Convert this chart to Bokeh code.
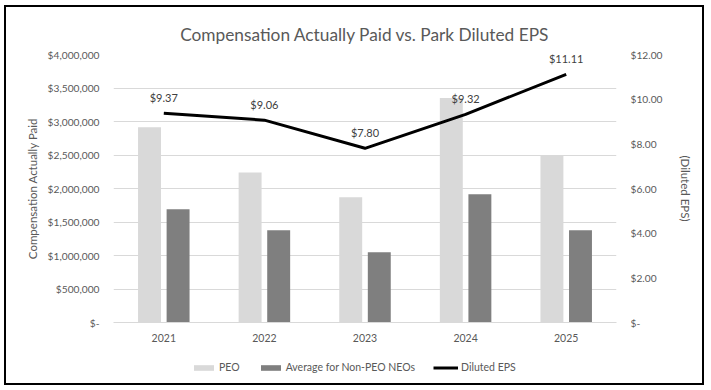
from bokeh.plotting import figure
from bokeh.models import (FactorRange, Range1d, LinearAxis, FixedTicker, Legend,
                          LegendItem, ColumnDataSource)
from bokeh.layouts import column
from bokeh.transform import dodge
from bokeh.core.properties import value
from bokeh.embed import file_html
from bokeh.resources import INLINE

# ---- data ----
years = ["2021", "2022", "2023", "2024", "2025"]
peo_cap = [2915000, 2240000, 1870000, 3350000, 2495000]
neo_cap = [1690000, 1378000, 1050000, 1915000, 1378000]
eps = [9.37, 9.06, 7.80, 9.32, 11.11]
eps_labels = ["$9.37", "$9.06", "$7.80", "$9.32", "$11.11"]

left_ticks = [0, 500000, 1000000, 1500000, 2000000, 2500000, 3000000, 3500000, 4000000]
left_tick_labels = ["$-", "$500,000", "$1,000,000", "$1,500,000", "$2,000,000",
                    "$2,500,000", "$3,000,000", "$3,500,000", "$4,000,000"]
right_ticks = [0, 2, 4, 6, 8, 10, 12]
right_tick_labels = ["$-", "$2.00", "$4.00", "$6.00", "$8.00", "$10.00", "$12.00"]
legend_labels = ["PEO", "Average for Non-PEO NEOs", "Diluted EPS"]

FONT = "Lato"
TXT = "#595959"
GRID = "#D9D9D9"
PEO_COLOR = "#D9D9D9"
NEO_COLOR = "#7F7F7F"

src = ColumnDataSource(dict(year=years, peo=peo_cap, neo=neo_cap, eps=eps, lab=eps_labels))

p = figure(x_range=FactorRange(*years), y_range=Range1d(0, 4000000),
           width=696, height=345, output_backend="svg",
           toolbar_location=None, min_border_left=107, min_border_right=86,
           min_border_top=47, min_border_bottom=30)
p.extra_y_ranges = {"eps": Range1d(0, 12)}
p.outline_line_color = None
p.background_fill_color = "white"
p.border_fill_color = "white"

p.title.text = "Compensation Actually Paid vs. Park Diluted EPS"
p.title.align = "center"
p.title.text_font = FONT
p.title.text_font_style = "normal"
p.title.text_font_size = "17.3px"
p.title.text_color = TXT
p.title.standoff = 19

p.vbar(x=dodge("year", -0.142, range=p.x_range), top="peo", width=0.228,
       source=src, fill_color=PEO_COLOR, line_color=None)
p.vbar(x=dodge("year", 0.142, range=p.x_range), top="neo", width=0.228,
       source=src, fill_color=NEO_COLOR, line_color=None)
p.line(x="year", y="eps", source=src, y_range_name="eps",
       line_color="black", line_width=3)
p.text(x="year", y="eps", text="lab", source=src, y_range_name="eps",
       y_offset=-16, text_align="center", text_baseline="middle",
       text_font=value(FONT), text_font_size="11px", text_color="#404040")

# grid
p.xgrid.grid_line_color = None
p.ygrid.grid_line_color = GRID
p.ygrid.ticker = FixedTicker(ticks=left_ticks)

# left axis
ya = p.yaxis[0]
ya.ticker = FixedTicker(ticks=left_ticks)
ya.major_label_overrides = {t: s for t, s in zip(left_ticks, left_tick_labels)}
ya.axis_line_color = None
ya.major_tick_line_color = None
ya.minor_tick_line_color = None
ya.major_tick_out = 0
ya.major_label_standoff = 14
ya.major_label_text_font = FONT
ya.major_label_text_font_size = "10.2px"
ya.major_label_text_color = TXT
ya.axis_label = "Compensation Actually Paid"
ya.axis_label_text_font = FONT
ya.axis_label_text_font_style = "normal"
ya.axis_label_text_font_size = "11.5px"
ya.axis_label_text_color = TXT
ya.axis_label_standoff = 6

# right axis
ra = LinearAxis(y_range_name="eps", ticker=FixedTicker(ticks=right_ticks))
ra.major_label_overrides = {t: s for t, s in zip(right_ticks, right_tick_labels)}
ra.axis_line_color = None
ra.major_tick_line_color = None
ra.minor_tick_line_color = None
ra.major_tick_out = 0
ra.major_label_standoff = 14
ra.major_label_text_font = FONT
ra.major_label_text_font_size = "10.2px"
ra.major_label_text_color = TXT
ra.axis_label = "(Diluted EPS)"
ra.axis_label_text_font = FONT
ra.axis_label_text_font_style = "normal"
ra.axis_label_text_font_size = "11.5px"
ra.axis_label_text_color = TXT
ra.axis_label_standoff = 14
p.add_layout(ra, "right")

# x axis
xa = p.xaxis[0]
xa.axis_line_color = GRID
xa.major_tick_line_color = None
xa.minor_tick_line_color = None
xa.major_tick_out = 0
xa.major_label_standoff = 11
xa.major_label_text_font = FONT
xa.major_label_text_font_size = "10.5px"
xa.major_label_text_color = TXT

# ---- legend strip (own small figure; its renderers are hidden stand-ins) ----
lg = figure(width=696, height=31, output_backend="svg", toolbar_location=None,
            x_range=Range1d(0, 1), y_range=Range1d(0, 1), min_border=0)
lg.outline_line_color = None
lg.axis.visible = False
lg.grid.visible = False
stand_in = ColumnDataSource(dict(x=[0.5], y=[0.5]))
g1 = lg.vbar(x="x", top="y", width=0.1, source=stand_in, fill_color=PEO_COLOR,
             line_color=None, visible=False)
g2 = lg.vbar(x="x", top="y", width=0.1, source=stand_in, fill_color=NEO_COLOR,
             line_color=None, visible=False)
g3 = lg.line(x="x", y="y", source=stand_in, line_color="black", line_width=3,
             visible=False)
legend = Legend(items=[LegendItem(label=legend_labels[0], renderers=[g1]),
                       LegendItem(label=legend_labels[1], renderers=[g2]),
                       LegendItem(label=legend_labels[2], renderers=[g3])],
                orientation="horizontal", location=(78, 10),
                glyph_width=25, glyph_height=7, label_standoff=3, spacing=18,
                label_height=12, label_text_baseline="middle",
                label_text_font=FONT, label_text_font_size="10.5px",
                label_text_color=TXT, border_line_color=None,
                inactive_fill_alpha=0,
                background_fill_alpha=0, padding=0, margin=0)
lg.add_layout(legend, "center")

layout = column(p, lg, spacing=0)
layout.styles = {"border": "2px solid #000000", "margin-left": "4px", "margin-top": "5px",
                 "background-color": "white"}

open("out.html", "w").write(file_html(layout, INLINE))
